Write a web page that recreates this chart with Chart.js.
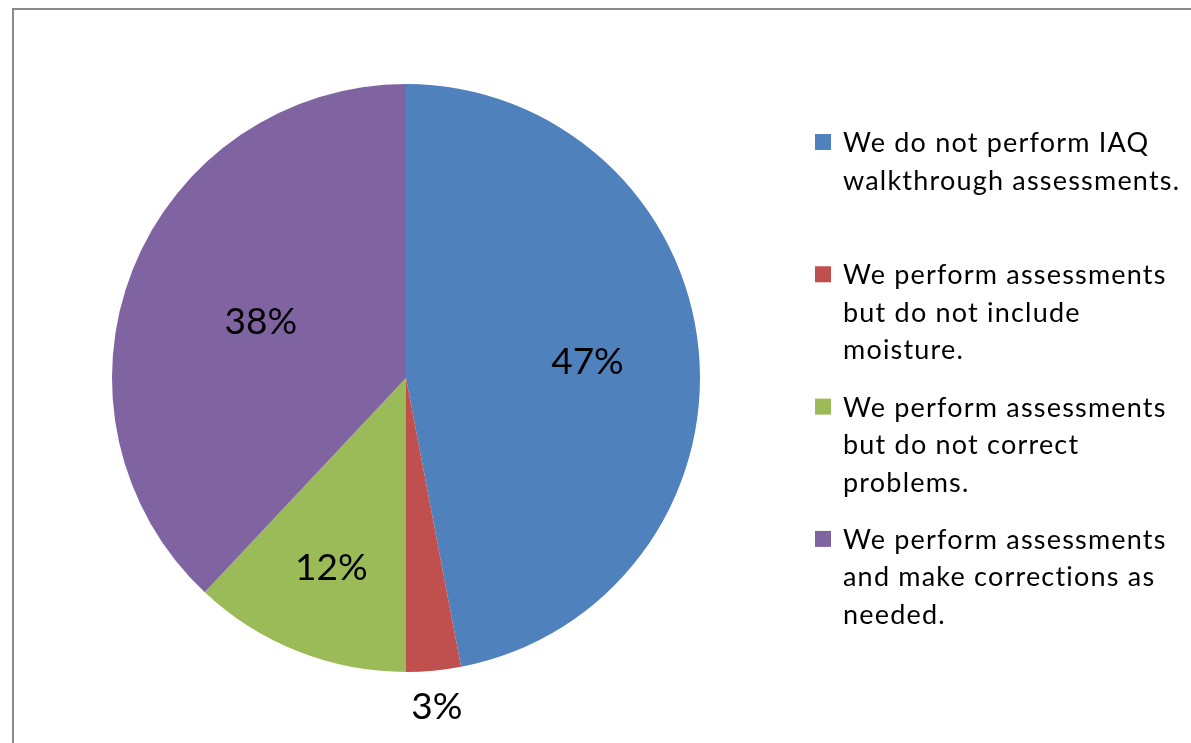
<!DOCTYPE html>
<html>
<head>
<meta charset="utf-8">
<script src="https://cdn.jsdelivr.net/npm/chart.js@4/dist/chart.umd.min.js"></script>
<style>
html,body{margin:0;padding:0;background:#fff;}
#wrap{position:relative;width:1191px;height:743px;}
</style>
</head>
<body>
<div id="wrap"><canvas id="c" width="1191" height="743"></canvas></div>
<script>
const categories = [
  ["We do not perform IAQ", "walkthrough assessments."],
  ["We perform assessments", "but do not include", "moisture."],
  ["We perform assessments", "but do not correct", "problems."],
  ["We perform assessments", "and make corrections as", "needed."]
];
const values = [47, 3, 12, 38];
const colors = ["#4F81BD", "#C0504D", "#9BBB59", "#8064A2"];
const labelRadius = [0.62, 1.118, 0.69, 0.531];

const FONT = "Lato, 'Open Sans', sans-serif";

const framePlugin = {
  id: 'frame',
  beforeDraw(chart) {
    const ctx = chart.ctx;
    ctx.save();
    ctx.fillStyle = '#fff';
    ctx.fillRect(0, 0, chart.width, chart.height);
    ctx.strokeStyle = '#8a8a8a';
    ctx.lineWidth = 2;
    ctx.strokeRect(13, 9, chart.width + 20, chart.height + 20);
    ctx.restore();
  }
};

const labelPlugin = {
  id: 'sliceLabels',
  afterDatasetsDraw(chart) {
    const ctx = chart.ctx;
    const meta = chart.getDatasetMeta(0);
    const fs = 37;
    ctx.save();
    ctx.font = fs + "px " + FONT;
    ctx.fillStyle = '#000';
    ctx.textAlign = 'center';
    ctx.textBaseline = 'alphabetic';
    meta.data.forEach((arc, i) => {
      const p = arc.getProps(['x','y','startAngle','endAngle','outerRadius']);
      const a = (p.startAngle + p.endAngle) / 2;
      const r = p.outerRadius * labelRadius[i];
      ctx.fillText(values[i] + '%', p.x + Math.cos(a) * r, p.y + Math.sin(a) * r + fs * 0.36);
    });
    ctx.restore();
  }
};

const legendPlugin = {
  id: 'sideLegend',
  afterDraw(chart) {
    const ctx = chart.ctx;
    ctx.save();
    ctx.font = "27px " + FONT;
    if ('letterSpacing' in ctx) ctx.letterSpacing = '1.2px';
    ctx.textBaseline = 'alphabetic';
    const x0 = 815, box = 16, tx = 843, top = 152, step = 132.3, lh = 37.5;
    chart.data.labels.forEach((lines, i) => {
      const base = top + i * step;
      ctx.fillStyle = colors[i];
      ctx.fillRect(x0, base - 18, box, box);
      ctx.fillStyle = '#000';
      lines.forEach((t, j) => ctx.fillText(t, tx, base + j * lh));
    });
    ctx.restore();
  }
};

new Chart(document.getElementById('c'), {
  type: 'pie',
  data: {
    labels: categories,
    datasets: [{
      data: values,
      backgroundColor: colors,
      borderWidth: 0
    }]
  },
  options: {
    responsive: false,
    animation: false,
    rotation: 0,
    layout: { padding: { left: 112, right: 491, top: 84, bottom: 71 } },
    plugins: { legend: { display: false }, tooltip: { enabled: false } }
  },
  plugins: [framePlugin, labelPlugin, legendPlugin]
});
</script>
</body>
</html>
